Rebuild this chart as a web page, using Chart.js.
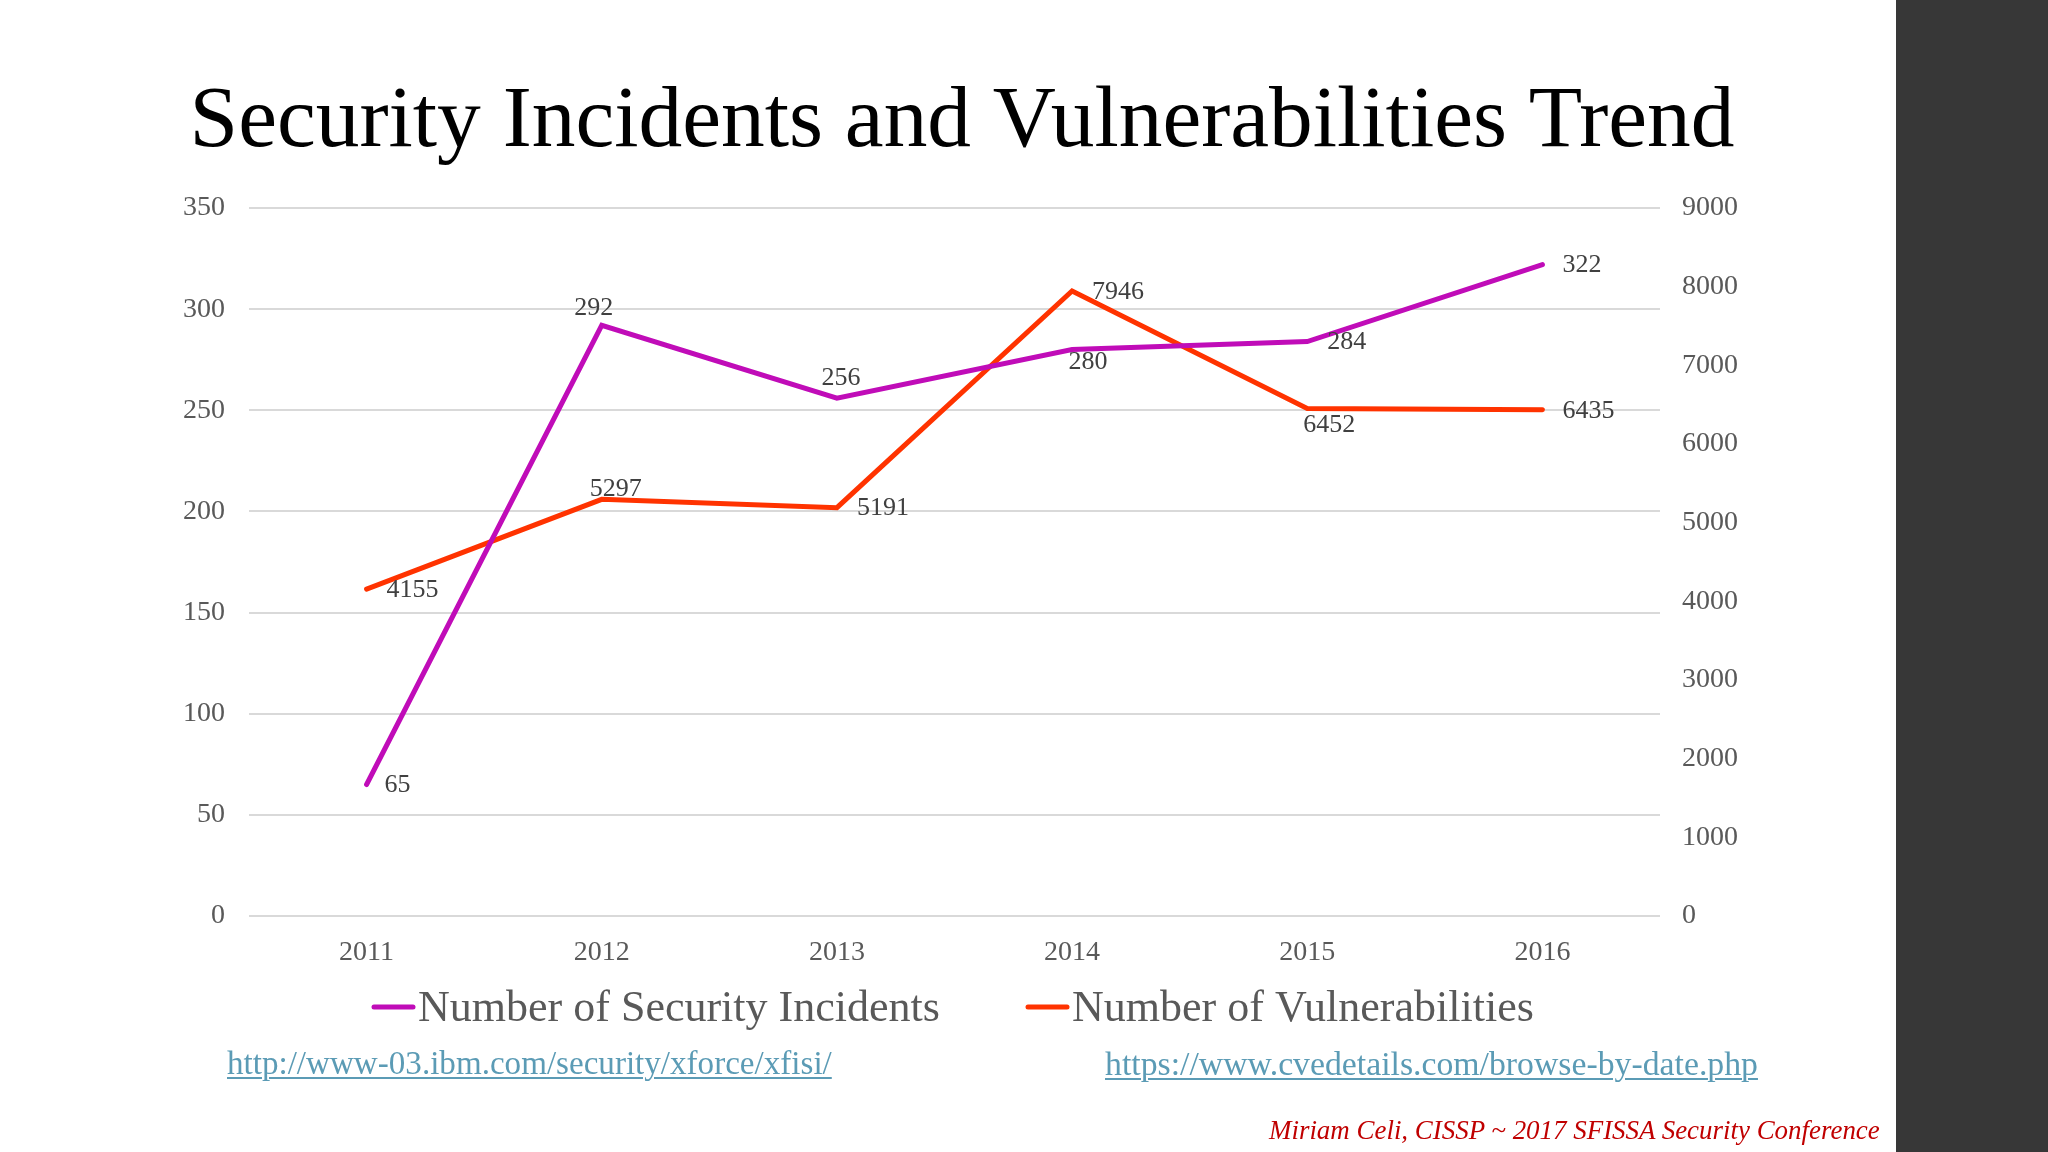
<!DOCTYPE html>
<html>
<head>
<meta charset="utf-8">
<script src="https://cdn.jsdelivr.net/npm/chart.js@4.4.1/dist/chart.umd.min.js"></script>
<style>
  html, body { margin:0; padding:0; width:2048px; height:1152px; overflow:hidden; background:#ffffff; }
  #panel { position:absolute; left:1896px; top:0; width:152px; height:1152px; background:#373737; }
  #wrap { position:absolute; left:0; top:0; width:1896px; height:1152px; }
  .txt { position:absolute; white-space:nowrap; line-height:1; font-family:"Liberation Serif", serif; }
  a.src { color:#5b9bb5; text-decoration:underline; text-decoration-thickness:2px; text-underline-offset:3px; }
  #foot { color:#c00000; font-style:italic; }
</style>
</head>
<body>
<div id="panel"></div>
<div id="wrap"><canvas id="c" width="1896" height="1152"></canvas></div>
<a class="txt src" id="link1" href="http://www-03.ibm.com/security/xforce/xfisi/">http://www-03.ibm.com/security/xforce/xfisi/</a>
<a class="txt src" id="link2" href="https://www.cvedetails.com/browse-by-date.php">https://www.cvedetails.com/browse-by-date.php</a>
<div class="txt" id="foot">Miriam Celi, CISSP ~ 2017 SFISSA Security Conference</div>
<script>
// ---- data ----
const years = ['2011', '2012', '2013', '2014', '2015', '2016'];
const incidents = [65, 292, 256, 280, 284, 322];
const vulnerabilities = [4155, 5297, 5191, 7946, 6452, 6435];
const seriesNames = ['Number of Security Incidents', 'Number of Vulnerabilities'];
const titleText = 'Security Incidents and Vulnerabilities Trend';
const leftAxisMax = 350, leftAxisStep = 50;
const rightAxisMax = 9000, rightAxisStep = 1000;

// ---- styles / placements ----
const FONT = '"Liberation Serif", serif';
const colors = ['#c00cb8', '#ff3300'];
// label placement per point: [dx, dy, align]
const labelPlace = [
  [[18,1,'left'], [-8,-17,'center'], [4,-20,'center'], [16,13,'center'], [20,1,'left'], [20,1,'left']],
  [[20,1,'left'], [14,-10,'center'], [20,1,'left'], [20,1,'left'], [22,17,'center'], [20,1,'left']]
];

const mctx = document.createElement('canvas').getContext('2d');
function fit(text, targetW, style) {
  mctx.font = (style || '') + ' 100px ' + FONT;
  return 100 * targetW / mctx.measureText(text).width;
}
const titleSize = fit(titleText, 1545);
const legendSize = fit(seriesNames[0], 522);

// HTML texts
function placeText(id, text, left, right, baseline, style) {
  const el = document.getElementById(id);
  const size = fit(text, right - left, style);
  el.style.fontSize = size + 'px';
  el.style.left = left + 'px';
  el.style.top = (baseline - 0.8375 * size) + 'px';
}
placeText('link1', document.getElementById('link1').textContent, 227, 832, 1075);
placeText('link2', document.getElementById('link2').textContent, 1105, 1758, 1075);
placeText('foot', document.getElementById('foot').textContent, 1269, 1881, 1140, 'italic');

const overlay = {
  id: 'overlay',
  afterDraw(chart) {
    const ctx = chart.ctx;
    ctx.save();
    // title
    ctx.fillStyle = '#000000';
    ctx.font = titleSize + 'px ' + FONT;
    ctx.textAlign = 'center';
    ctx.textBaseline = 'alphabetic';
    ctx.fillText(titleText, 962, 146);
    // data labels
    ctx.font = '26px ' + FONT;
    ctx.fillStyle = '#404040';
    ctx.textBaseline = 'middle';
    chart.data.datasets.forEach((ds, di) => {
      const meta = chart.getDatasetMeta(di);
      meta.data.forEach((pt, i) => {
        const p = labelPlace[di][i];
        ctx.textAlign = p[2];
        ctx.fillText(String(ds.data[i]), pt.x + p[0], pt.y + p[1]);
      });
    });
    // legend
    const legendX = [372, 1026];
    ctx.font = legendSize + 'px ' + FONT;
    ctx.textAlign = 'left';
    ctx.textBaseline = 'alphabetic';
    chart.data.datasets.forEach((ds, di) => {
      const x = legendX[di];
      ctx.strokeStyle = ds.borderColor;
      ctx.lineWidth = 5;
      ctx.lineCap = 'round';
      ctx.beginPath();
      ctx.moveTo(x + 2, 1007);
      ctx.lineTo(x + 41, 1007);
      ctx.stroke();
      ctx.fillStyle = '#595959';
      ctx.fillText(ds.label, x + 46, 1021);
    });
    ctx.restore();
  }
};

const plainTick = (v) => String(v);

new Chart(document.getElementById('c'), {
  type: 'line',
  data: {
    labels: years,
    datasets: [
      { label: seriesNames[0], data: incidents, yAxisID: 'y', borderColor: colors[0], backgroundColor: colors[0],
        borderWidth: 5, pointRadius: 0, tension: 0, borderCapStyle: 'round', borderJoinStyle: 'miter' },
      { label: seriesNames[1], data: vulnerabilities, yAxisID: 'y2', borderColor: colors[1], backgroundColor: colors[1],
        borderWidth: 5, pointRadius: 0, tension: 0, borderCapStyle: 'round', borderJoinStyle: 'miter' }
    ]
  },
  options: {
    responsive: false,
    animation: false,
    devicePixelRatio: 1,
    layout: { padding: { left: 0, right: 0, top: 208, bottom: 176 } },
    plugins: { legend: { display: false }, title: { display: false }, tooltip: { enabled: false } },
    scales: {
      x: {
        offset: true,
        grid: { display: false, drawTicks: false },
        border: { display: false },
        ticks: { color: '#595959', font: { family: FONT, size: 28 }, padding: 20 },
        afterFit(s) { s.height = 60; }
      },
      y: {
        position: 'left', min: 0, max: leftAxisMax,
        ticks: { stepSize: leftAxisStep, color: '#595959', font: { family: FONT, size: 28 }, padding: 24, callback: plainTick },
        grid: { color: '#d9d9d9', lineWidth: 2, drawTicks: false },
        border: { display: false },
        afterFit(s) { s.width = 249; }
      },
      y2: {
        position: 'right', min: 0, max: rightAxisMax,
        ticks: { stepSize: rightAxisStep, color: '#595959', font: { family: FONT, size: 28 }, padding: 22, callback: plainTick },
        grid: { display: false, drawTicks: false },
        border: { display: false },
        afterFit(s) { s.width = 236; }
      }
    }
  },
  plugins: [overlay]
});
</script>
</body>
</html>
